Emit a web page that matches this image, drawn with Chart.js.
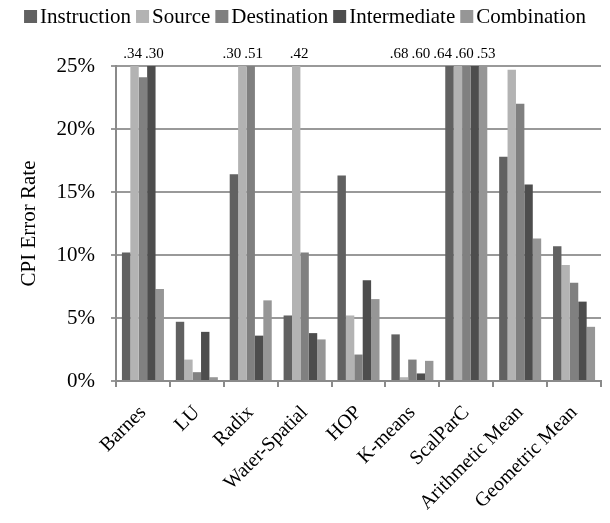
<!DOCTYPE html>
<html><head><meta charset="utf-8">
<script src="https://cdn.jsdelivr.net/npm/chart.js@4"></script>
<style>html,body{margin:0;padding:0;background:#fff}#wrap{width:610px;height:523px;position:relative}</style>
</head><body><div id="wrap"><canvas id="c" width="610" height="523"></canvas></div>
<script>
const categories = ['Barnes','LU','Radix','Water-Spatial','HOP','K-means','ScalParC','Arithmetic Mean','Geometric Mean'];
const seriesNames = ['Instruction','Source','Destination','Intermediate','Combination'];
const instruction  = [10.2, 4.7, 16.4, 5.2, 16.3, 3.7, 68, 17.8, 10.7];
const source       = [34, 1.7, 30, 42, 5.2, 0.3, 60, 24.7, 9.2];
const destination  = [24.1, 0.7, 51, 10.2, 2.1, 1.7, 64, 22.0, 7.8];
const intermediate = [30, 3.9, 3.6, 3.8, 8.0, 0.6, 60, 15.6, 6.3];
const combination  = [7.3, 0.3, 6.4, 3.3, 6.5, 1.6, 53, 11.3, 4.3];
const yTicks = [0, 5, 10, 15, 20, 25];

const seriesData = [instruction, source, destination, intermediate, combination];
const colors = ['#616161', '#b3b3b3', '#808080', '#4d4d4d', '#969696'];
const FAM = '"Liberation Serif", "Times New Roman", serif';

const legendPlugin = {
  id: 'customLegend',
  afterDraw(chart) {
    const ctx = chart.ctx;
    ctx.save();
    ctx.font = '21px ' + FAM;
    const box = 13, g1 = 3, g2 = 5;
    const items = chart.data.datasets.map(d => ({ t: d.label, c: d.backgroundColor, w: ctx.measureText(d.label).width }));
    const total = items.reduce((a, it) => a + box + g1 + it.w, 0) + g2 * (items.length - 1);
    let x = (chart.width - total) / 2;
    const cy = 16;
    ctx.textBaseline = 'middle';
    ctx.textAlign = 'left';
    items.forEach(it => {
      ctx.fillStyle = it.c;
      ctx.fillRect(x, cy - 6, box, box);
      x += box + g1;
      ctx.fillStyle = '#000';
      ctx.fillText(it.t, x, cy + 1);
      x += it.w + g2;
    });
    ctx.restore();
  }
};

const overflowPlugin = {
  id: 'overflowLabels',
  afterDatasetsDraw(chart) {
    const ctx = chart.ctx;
    const yScale = chart.scales.y;
    const max = yScale.max;
    ctx.save();
    ctx.font = '15px ' + FAM;
    ctx.fillStyle = '#000';
    ctx.textBaseline = 'alphabetic';
    ctx.textAlign = 'left';
    const gap = 3;
    chart.data.labels.forEach((_, i) => {
      const list = [];
      chart.data.datasets.forEach((ds, j) => {
        const v = ds.data[i];
        if (v > max) {
          const el = chart.getDatasetMeta(j).data[i];
          const t = '.' + (v / 100).toFixed(2).slice(2);
          list.push({ x: el.x, t, w: ctx.measureText(t).width });
        }
      });
      let limit = Infinity;
      for (let k = list.length - 1; k >= 0; k--) {
        const it = list[k];
        let left = it.x - it.w / 2 + (k === list.length - 1 ? 3 : 0);
        if (left + it.w > limit) left = limit - it.w;
        ctx.fillText(it.t, left, chart.chartArea.top - 8);
        limit = left - gap;
      }
    });
    ctx.restore();
  }
};

new Chart(document.getElementById('c'), {
  type: 'bar',
  data: {
    labels: categories,
    datasets: seriesNames.map((n, i) => ({
      label: n, data: seriesData[i], backgroundColor: colors[i], borderWidth: 0,
      categoryPercentage: 0.78, barPercentage: 1.0, clip: 0
    }))
  },
  options: {
    responsive: false, animation: false, devicePixelRatio: 1,
    layout: { padding: { top: 66, right: 9, left: 0, bottom: 0 } },
    plugins: { legend: { display: false }, tooltip: { enabled: false } },
    scales: {
      x: {
        grid: { display: true, drawOnChartArea: false, drawTicks: true, tickLength: 6, color: '#8a8a8a', lineWidth: 2, offset: true },
        border: { color: '#8a8a8a', width: 2 },
        ticks: { minRotation: 45, maxRotation: 45, color: '#000', font: { family: FAM, size: 20 }, padding: 14 },
        afterFit(s) { s.height = 142; }
      },
      y: {
        min: 0, max: 25,
        afterBuildTicks(s) { s.ticks = yTicks.map(v => ({ value: v })); },
        ticks: { callback: v => v + '%', color: '#000', font: { family: FAM, size: 21 }, padding: 16 },
        grid: { color: '#999999', lineWidth: 2, tickLength: 5 },
        border: { color: '#8a8a8a', width: 2 },
        title: { display: true, text: 'CPI Error Rate', color: '#000', font: { family: FAM, size: 21 }, padding: { top: 17, bottom: 0 } },
        afterFit(s) { s.width = 116; }
      }
    }
  },
  plugins: [overflowPlugin, legendPlugin]
});
</script>
</body></html>
